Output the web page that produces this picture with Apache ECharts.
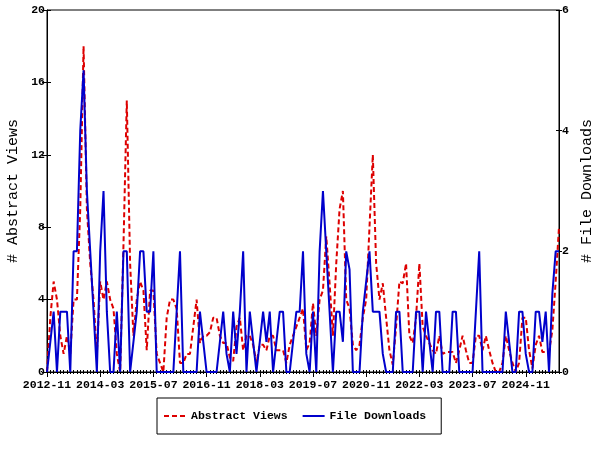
<!DOCTYPE html>
<html>
<head>
<meta charset="utf-8">
<script src="https://cdn.jsdelivr.net/npm/echarts@6/dist/echarts.min.js"></script>
<style>html,body{margin:0;padding:0;background:#fff;}#c{width:600px;height:450px;}</style>
</head>
<body>
<div id="c"></div>
<script>
// Monthly categories 2012-11 .. 2025-09
const startYear = 2012, startMonth = 11, monthCount = 155;
const months = [];
for (let k = 0; k < monthCount; k++) {
  const m = startMonth - 1 + k;
  const y = startYear + Math.floor(m / 12);
  const mm = (m % 12) + 1;
  months.push(y + '-' + (mm < 10 ? '0' + mm : '' + mm));
}

const abstractViews = [
  0, 3, 5, 4, 2, 1, 2, 1, 4, 4,
  9, 18, 9, 6, 4, 1, 5, 4, 5, 4,
  3.5, 1, 0, 7, 15, 6, 2, 4, 5, 4.5,
  1.2, 4.5, 4.5, 1, 0.5, 0, 3, 4, 4, 3.5,
  0.5, 0.5, 1, 1, 2.5, 4, 1.6, 2, 2, 2.2,
  3, 3, 2, 1.6, 1.6, 0.8, 0.6, 2.5, 3, 1.2,
  2, 2, 1.5, 0.5, 1.5, 1.5, 1.2, 2, 2, 1.2,
  1.2, 1.2, 0.5, 1.5, 2, 2.5, 3, 3.5, 1.2, 1.6,
  3.8, 2, 4, 4.5, 7.5, 4.9, 2, 6, 9, 10,
  4, 3.5, 1.5, 1.2, 1.5, 3, 4, 8, 12, 6,
  4, 4.9, 3, 1.2, 0.4, 2.5, 5, 4.9, 6, 2,
  1.6, 3, 6, 2.5, 2, 1.6, 1.2, 1, 2, 1,
  1.1, 1.1, 1.1, 0.5, 1.2, 2, 1.2, 0.5, 0.5, 2,
  2, 1.2, 2, 1.2, 0.5, 0, 0, 0.5, 2, 1.2,
  0.5, 0, 0.5, 3, 3, 1.2, 0.2, 1.5, 2, 1.1,
  1.1, 1.1, 2.3, 5, 8
];

const fileDownloads = [
  0, 0.5, 1, 0, 1, 1, 1, 0, 2, 2,
  4, 5, 3, 2, 1, 0, 2, 3, 1, 0,
  0, 1, 0, 2, 2, 0, 0.5, 1, 2, 2,
  1, 1, 2, 0, 0, 0, 0, 0, 0, 1,
  2, 0, 0, 0, 0, 0, 1, 0.5, 0, 0,
  0, 0, 0.5, 1, 0.3, 0, 1, 0.3, 1, 2,
  0, 1, 0.5, 0, 0.5, 1, 0.5, 1, 0, 0.5,
  1, 1, 0, 0, 0.5, 1, 1, 2, 0.3, 0,
  1, 0, 2, 3, 2, 1, 0, 1, 1, 0.5,
  2, 1.7, 0, 0, 0, 1, 1.5, 2, 1, 1,
  1, 0.3, 0, 0, 0, 1, 1, 0, 0, 0,
  0, 1, 1, 0, 1, 0.5, 0, 1, 1, 0,
  0, 0, 1, 1, 0, 0, 0, 0, 0, 1,
  2, 0, 0, 0, 0, 0, 0, 0, 1, 0.5,
  0, 0, 1, 1, 0.3, 0, 0, 1, 1, 0.5,
  1, 0, 1.3, 2, 2
];

const leftTicks = { min: 0, max: 20, interval: 4 };
const rightTicks = { min: 0, max: 6, interval: 2 };

const FONT = "'Liberation Mono', 'DejaVu Sans Mono', monospace";
const black = '#000';

const chart = echarts.init(document.getElementById('c'), null, { renderer: 'canvas' });
chart.setOption({
  animation: false,
  backgroundColor: '#fff',
  grid: { left: 47, right: 41, top: 10, bottom: 78, show: true, borderColor: black, borderWidth: 1, backgroundColor: 'transparent', containLabel: false, outerBoundsMode: 'none' },
  legend: {
    left: 157, top: 398, orient: 'horizontal',
    borderColor: black, borderWidth: 1,
    padding: [12, 15, 12, 6],
    itemWidth: 22, itemHeight: 14, itemGap: 14,
    itemStyle: { opacity: 0 },
    textStyle: { fontFamily: FONT, fontWeight: 'bold', fontSize: 11.5, color: black },
    data: ['Abstract Views', 'File Downloads']
  },
  xAxis: [
    {
      type: 'category', data: months, boundaryGap: false,
      axisLine: { lineStyle: { color: black, width: 1 } },
      axisTick: { interval: 15, length: 5, lineStyle: { color: black } },
      axisLabel: { interval: 15, margin: 7, color: black, fontFamily: FONT, fontWeight: 'bold', fontSize: 11.5 },
      splitLine: { show: false }
    },
    {
      type: 'category', data: months, boundaryGap: false, position: 'bottom',
      axisLine: { show: false },
      axisTick: { interval: 0, length: 2, lineStyle: { color: black } },
      axisLabel: { show: false }, splitLine: { show: false }
    },
    {
      type: 'category', data: months, boundaryGap: false, position: 'bottom',
      axisLine: { show: false },
      axisTick: { interval: 0, length: 2, inside: true, lineStyle: { color: black } },
      axisLabel: { show: false }, splitLine: { show: false }
    }
  ],
  yAxis: [
    {
      type: 'value', position: 'left', min: leftTicks.min, max: leftTicks.max, interval: leftTicks.interval,
      name: '# Abstract Views', nameLocation: 'middle', nameGap: 21,
      nameTextStyle: { fontFamily: FONT, fontSize: 15, color: black },
      axisLine: { show: true, lineStyle: { color: black } },
      axisTick: { show: true, length: 5, lineStyle: { color: black } },
      axisLabel: { margin: 2, color: black, fontFamily: FONT, fontWeight: 'bold', fontSize: 11.5 },
      splitLine: { show: false }
    },
    {
      type: 'value', position: 'right', min: rightTicks.min, max: rightTicks.max, interval: rightTicks.interval,
      name: '# File Downloads', nameLocation: 'middle', nameGap: 19,
      nameTextStyle: { fontFamily: FONT, fontSize: 15, color: black },
      axisLine: { show: true, lineStyle: { color: black } },
      axisTick: { show: true, length: 3, lineStyle: { color: black } },
      axisLabel: { margin: 3, color: black, fontFamily: FONT, fontWeight: 'bold', fontSize: 11.5 },
      splitLine: { show: false }
    },
    {
      type: 'value', position: 'left', min: leftTicks.min, max: leftTicks.max, interval: leftTicks.interval,
      axisLine: { show: false },
      axisTick: { show: true, inside: true, length: 4, lineStyle: { color: black } },
      axisLabel: { show: false }, splitLine: { show: false }
    },
    {
      type: 'value', position: 'right', min: rightTicks.min, max: rightTicks.max, interval: rightTicks.interval,
      axisLine: { show: false },
      axisTick: { show: true, inside: true, length: 3, lineStyle: { color: black } },
      axisLabel: { show: false }, splitLine: { show: false }
    }
  ],
  series: [
    {
      name: 'Abstract Views', type: 'line', data: abstractViews,
      xAxisIndex: 0, yAxisIndex: 0,
      symbol: 'none', smooth: false,
      itemStyle: { color: '#dd0000' },
      lineStyle: { color: '#dd0000', width: 2, type: [5, 3] }
    },
    {
      name: 'File Downloads', type: 'line', data: fileDownloads,
      xAxisIndex: 0, yAxisIndex: 1,
      symbol: 'none', smooth: false,
      itemStyle: { color: '#0000cc' },
      lineStyle: { color: '#0000cc', width: 2 }
    }
  ]
});
</script>
</body>
</html>
